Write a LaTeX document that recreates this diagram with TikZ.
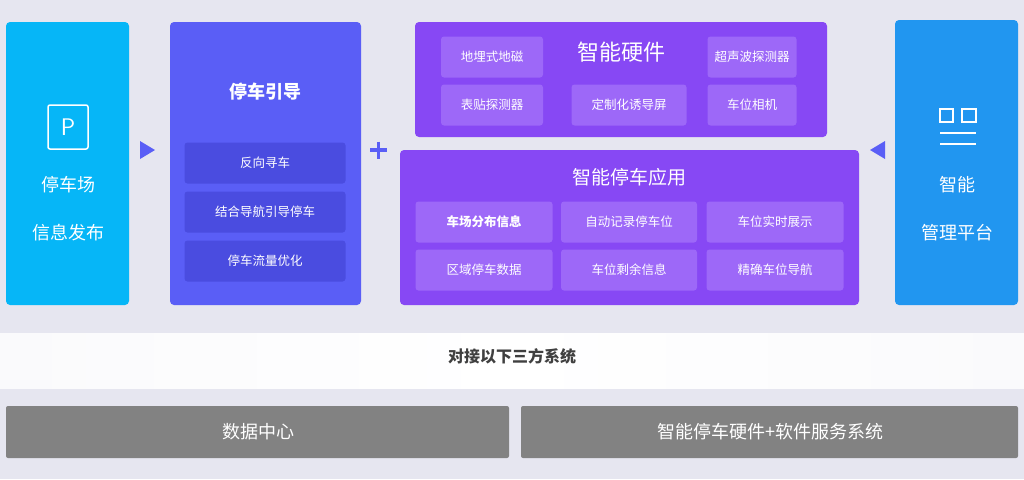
\documentclass[tikz,border=0pt]{standalone}
\usepackage{fontspec}
\newfontfamily\cjk{Noto Sans CJK SC}
\definecolor{bgc}{HTML}{E6E6F0}
\definecolor{cyanc}{HTML}{06B6F7}
\definecolor{guidec}{HTML}{5A5EF6}
\definecolor{guidesub}{HTML}{4A4CE0}
\definecolor{purc}{HTML}{8748F4}
\definecolor{pursub}{HTML}{9D68F8}
\definecolor{bluec}{HTML}{2196F0}
\definecolor{greyc}{HTML}{828282}
\tikzset{
  subbox/.style={rounded corners=3pt, text=white, font=\cjk\fontsize{12.5}{13}\selectfont, minimum height=41, inner sep=0pt},
  wtext/.style={text=white, font=\cjk\fontsize{18}{19}\selectfont},
}
\begin{document}
\begin{tikzpicture}[x=1pt,y=-1pt]
  \useasboundingbox (0,0) rectangle (1024,479);
  \fill[bgc] (0,0) rectangle (1024,479);
  % left panel
  \fill[cyanc, rounded corners=4pt] (6,22) rectangle (129,305);
  \draw[white, line width=1.5pt, rounded corners=2pt] (48,105) rectangle (88,149);
  \node[text=white, font=\sffamily\fontsize{24}{24}\selectfont] (pIcon) at (68,127) {P};
  \node[wtext] (parkA) at (68,185) {停车场};
  \node[wtext] (parkB) at (68,233) {信息发布};
  \fill[guidec] (140,141) -- (155,150) -- (140,159) -- cycle;
  % guidance panel
  \fill[guidec, rounded corners=4pt] (170,22) rectangle (361,305);
  \node[wtext, font=\cjk\bfseries\fontsize{18}{19}\selectfont] (guideT) at (265,92) {停车引导};
  \foreach \yy/\tt in {163/反向寻车, 212/结合导航引导停车, 261/停车流量优化}
    \node[subbox, fill=guidesub, minimum width=161] at (265,\yy) {\tt};
  \draw[guidec, line width=3.5pt] (370,150) -- (387,150) (378.5,141.5) -- (378.5,158.5);
  % hardware panel
  \fill[purc, rounded corners=4pt] (415,22) rectangle (827,137);
  \node[wtext, font=\cjk\fontsize{22}{23}\selectfont] (hwT) at (621,52) {智能硬件};
  \node[subbox, fill=pursub, minimum width=102] at (492,57) {地埋式地磁};
  \node[subbox, fill=pursub, minimum width=89] at (752,57) {超声波探测器};
  \node[subbox, fill=pursub, minimum width=102] at (492,105) {表贴探测器};
  \node[subbox, fill=pursub, minimum width=115] at (629,105) {定制化诱导屏};
  \node[subbox, fill=pursub, minimum width=89] at (752,105) {车位相机};
  % application panel
  \fill[purc, rounded corners=4pt] (400,150) rectangle (859,305);
  \node[wtext, font=\cjk\fontsize{19}{20}\selectfont] (appT) at (629,177) {智能停车应用};
  \node[subbox, fill=pursub, minimum width=137, font=\cjk\bfseries\fontsize{12.5}{13}\selectfont] at (484,222) {车场分布信息};
  \node[subbox, fill=pursub, minimum width=136] at (629,222) {自动记录停车位};
  \node[subbox, fill=pursub, minimum width=137] at (775,222) {车位实时展示};
  \node[subbox, fill=pursub, minimum width=137] at (484,270) {区域停车数据};
  \node[subbox, fill=pursub, minimum width=136] at (629,270) {车位剩余信息};
  \node[subbox, fill=pursub, minimum width=137] at (775,270) {精确车位导航};
  % right panel
  \fill[guidec] (885,141) -- (870,150) -- (885,159) -- cycle;
  \fill[bluec, rounded corners=4pt] (895,20) rectangle (1018,305);
  \draw[white, line width=1.5pt] (940,109) rectangle (953,122) (962,109) rectangle (976,122);
  \draw[white, line width=1.5pt] (940,133) -- (976,133) (940,144) -- (976,144);
  \node[wtext] (mgA) at (957,185) {智能};
  \node[wtext] (mgB) at (957,233) {管理平台};
  % band
  \shade[left color=white!80!bgc, right color=white!80!bgc, middle color=white] (0,333) rectangle (1024,388);
  \node[font=\cjk\bfseries\fontsize{16}{17}\selectfont, text=black!75] (band) at (512,356) {对接以下三方系统};
  % bottom
  \fill[greyc, rounded corners=2pt] (6,406) rectangle (509,458);
  \fill[greyc, rounded corners=2pt] (521,406) rectangle (1018,458);
  \node[wtext] (dc) at (258,432) {数据中心};
  \node[wtext] (sys) at (770,432) {智能停车硬件+软件服务系统};
\end{tikzpicture}
\end{document}
